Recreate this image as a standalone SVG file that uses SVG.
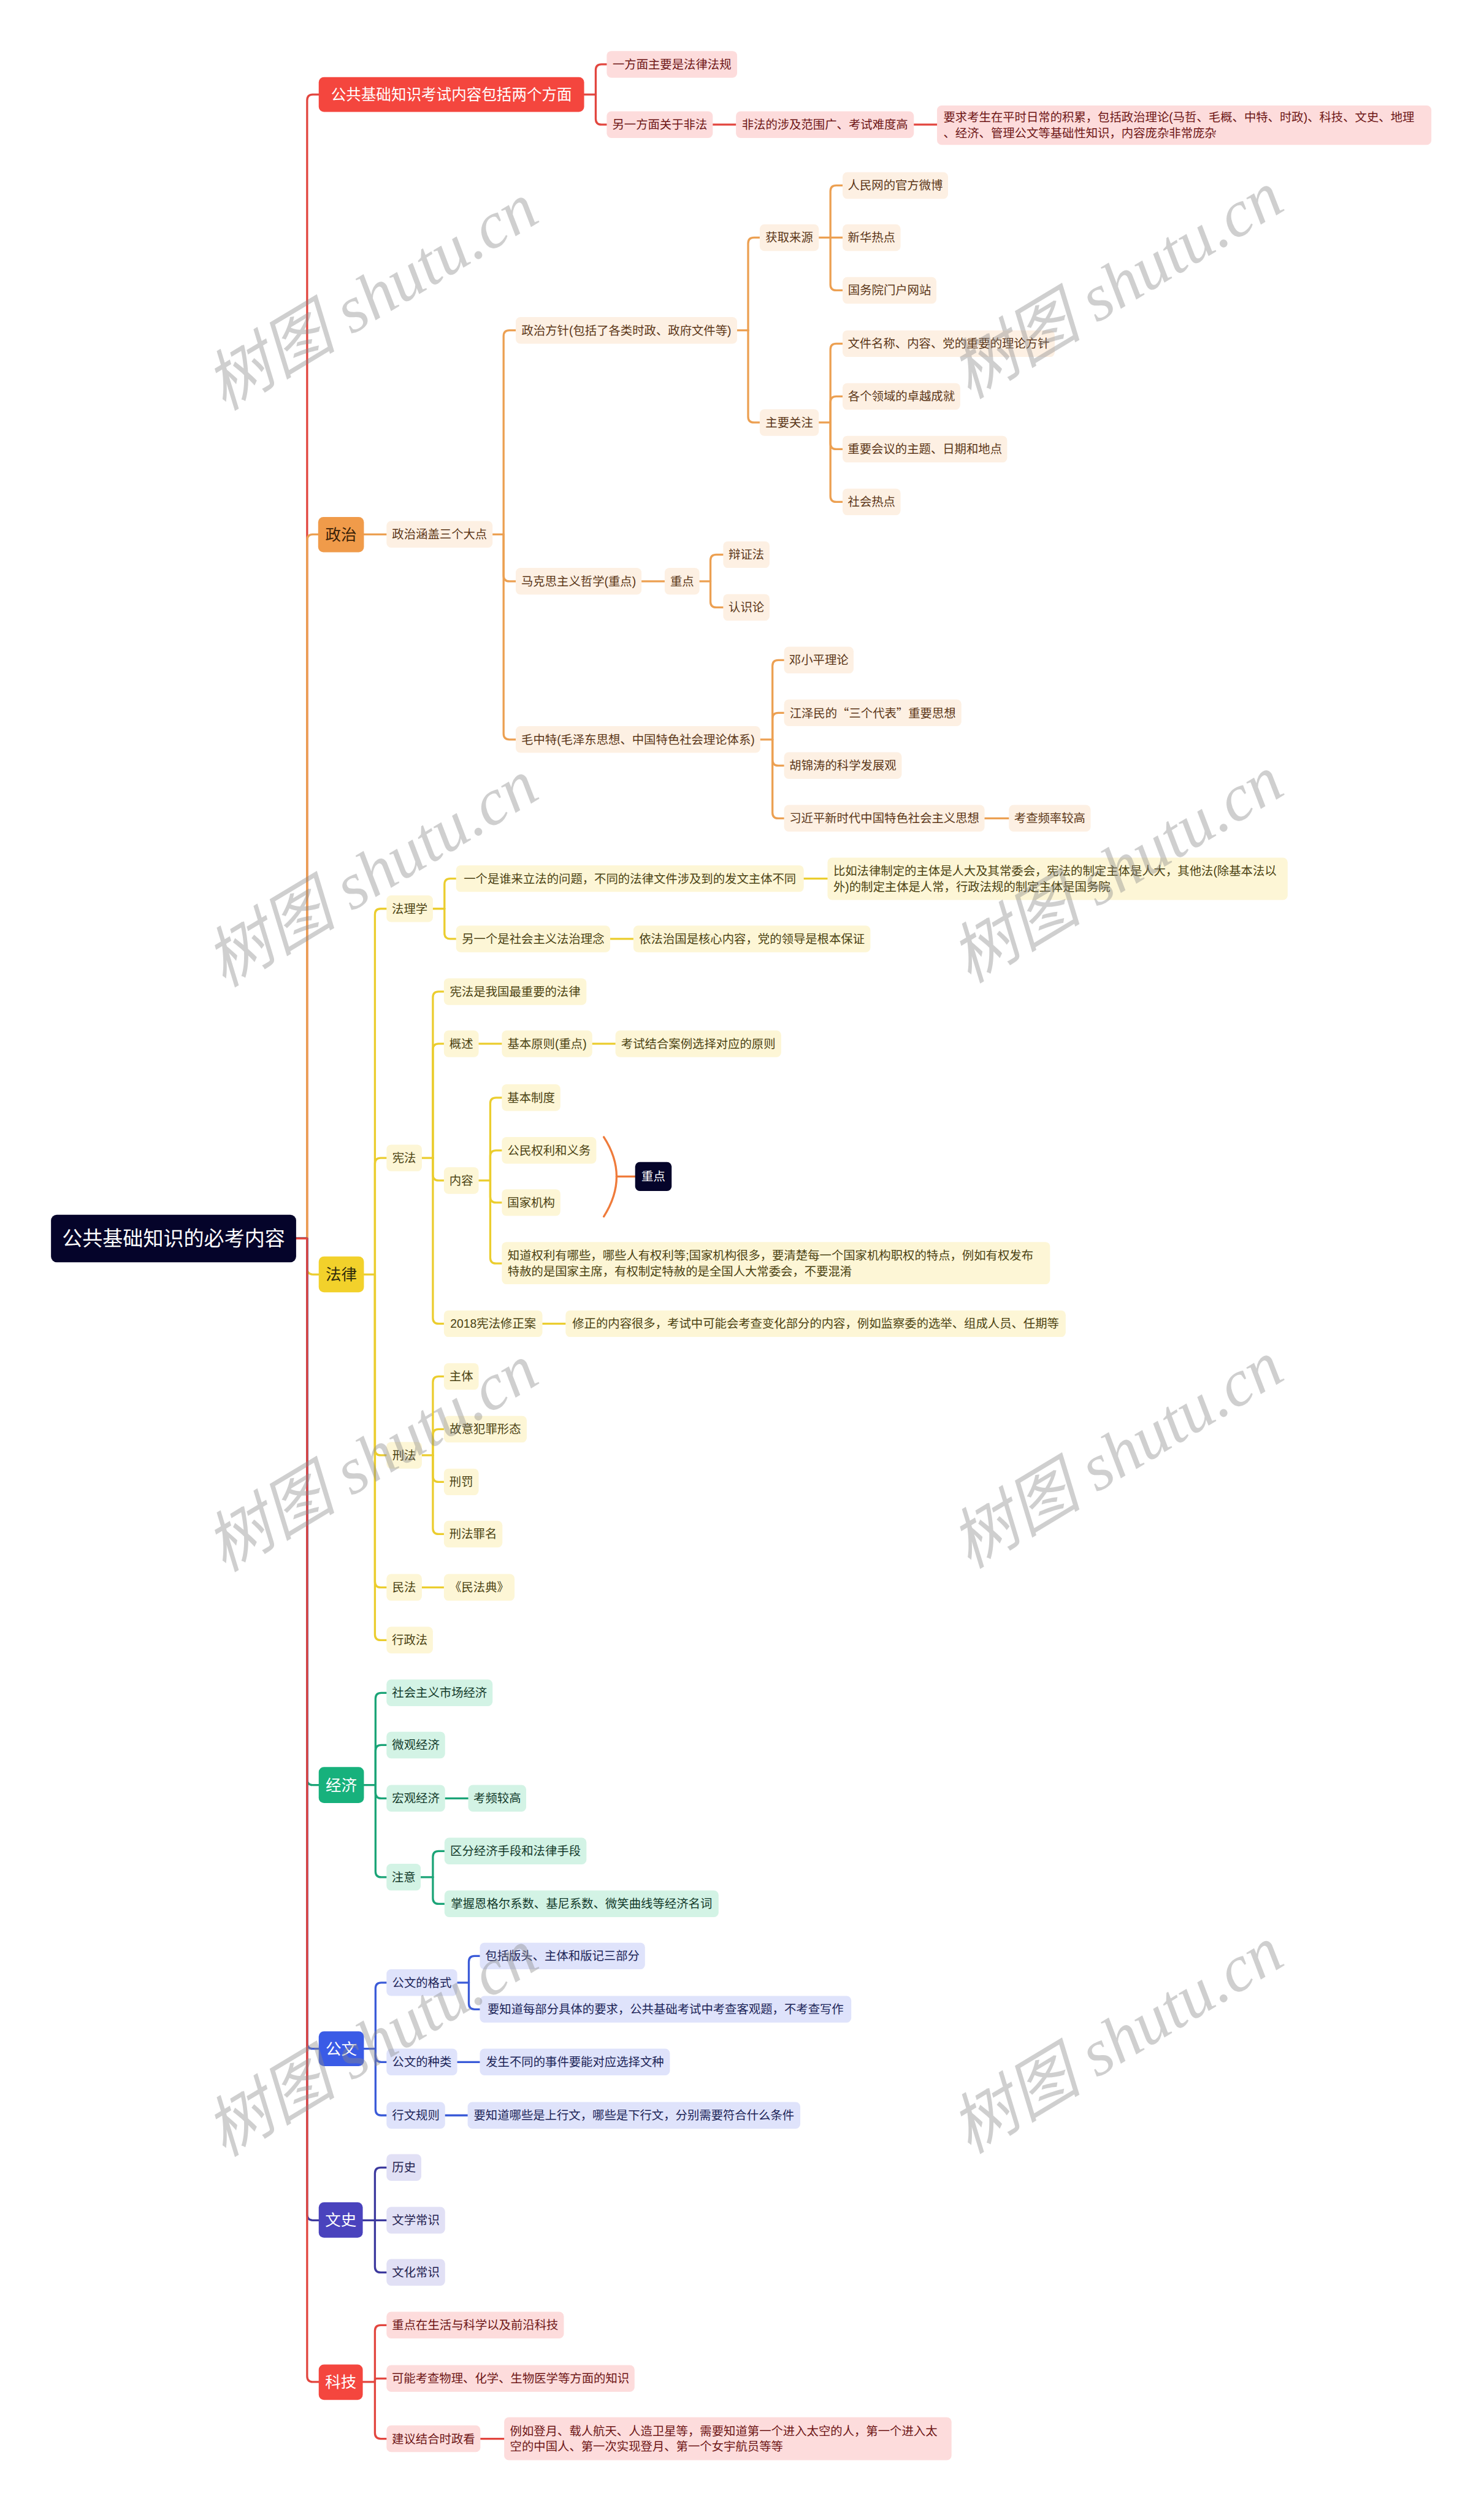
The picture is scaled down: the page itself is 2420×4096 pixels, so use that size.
<svg xmlns="http://www.w3.org/2000/svg" width="2420" height="4096" viewBox="0 0 2420 4096">
<style>
text{font-family:"Liberation Sans","Noto Sans CJK SC",sans-serif;font-size:20.5px;dominant-baseline:central;text-anchor:middle}
.lt text{text-anchor:start}
.pk rect{fill:#fddcdc}.pk text{fill:#6e1616}
.pe rect{fill:#fdf0e3}.pe text{fill:#5b3617}
.ye rect{fill:#fdf6d6}.ye text{fill:#4b4212}
.mi rect{fill:#d3f3e5}.mi text{fill:#12392a}
.bl rect{fill:#dfe3fb}.bl text{fill:#1b2357}
.la rect{fill:#e1e0f5}.la text{fill:#23214f}
.dk rect{fill:#05042a}.dk text{fill:#fff}
.br text{font-size:27px}
.c path{fill:none;stroke-width:3.5;stroke-linecap:round;stroke-linejoin:round}
.lr{stroke:#e2463f}.lo{stroke:#eca052}.ly{stroke:#ebcd2e}.lg{stroke:#1ba477}.lb{stroke:#3b5bd8}.li{stroke:#3d3a9e}.lbr{stroke:#ef7b3b}
.wm text{font-family:"Liberation Serif","Noto Sans CJK SC",serif;font-size:114px;font-style:italic;fill:#8a8a8a;opacity:0.4}
</style>
<g transform="scale(0.945)">
<g id="connectors" class="c">
<g class="lr"><path d="M511 2137H530V173Q530 163 540 163H550"/></g>
<g class="lo"><path d="M511 2137H530V932Q530 922 540 922H549"/></g>
<g class="ly"><path d="M511 2137H530V2189Q530 2199 540 2199H550"/></g>
<g class="lg"><path d="M511 2137H530V3070Q530 3080 540 3080H550"/></g>
<g class="lb"><path d="M511 2137H530V3525Q530 3535 540 3535H550"/></g>
<g class="li"><path d="M511 2137H530V3821Q530 3831 540 3831H550"/></g>
<g class="lr"><path d="M511 2137H530V4100Q530 4110 540 4110H550"/></g>
<g class="lr">
<path d="M1008 163H1028"/><path d="M1028 163V121Q1028 111 1038 111H1047"/><path d="M1028 163V205Q1028 215 1038 215H1047"/>
<path d="M1230 215H1270"/><path d="M1577 215H1617"/>
</g>
<g class="lo">
<path d="M628 922H667"/><path d="M850 922H869"/>
<path d="M869 922V580Q869 570 879 570H890"/><path d="M869 922V993Q869 1003 879 1003H890"/><path d="M869 922V1266Q869 1276 879 1276H890"/>
<path d="M1272 570H1291"/><path d="M1291 570V420Q1291 410 1301 410H1311"/><path d="M1291 570V719Q1291 729 1301 729H1311"/>
<path d="M1413 410H1454"/><path d="M1433 410V330Q1433 320 1443 320H1454"/><path d="M1433 410V491Q1433 501 1443 501H1454"/>
<path d="M1413 729H1433"/><path d="M1433 729V603Q1433 593 1443 593H1454"/><path d="M1433 729V694Q1433 684 1443 684H1454"/><path d="M1433 729V765Q1433 775 1443 775H1454"/><path d="M1433 729V856Q1433 866 1443 866H1454"/>
<path d="M1107 1003H1147"/><path d="M1207 1003H1226"/><path d="M1226 1003V967Q1226 957 1236 957H1248"/><path d="M1226 1003V1038Q1226 1048 1236 1048H1248"/>
<path d="M1312 1276H1333"/><path d="M1333 1276V1149Q1333 1139 1343 1139H1353"/><path d="M1333 1276V1240Q1333 1230 1343 1230H1353"/><path d="M1333 1276V1311Q1333 1321 1343 1321H1353"/><path d="M1333 1276V1402Q1333 1412 1343 1412H1353"/>
<path d="M1699 1412H1741"/>
</g>
<g class="ly">
<path d="M628 2199H647"/>
<path d="M647 2199V1578Q647 1568 657 1568H667"/><path d="M647 2199V2008Q647 1998 657 1998H667"/><path d="M647 2199V2501Q647 2511 657 2511H667"/><path d="M647 2199V2729Q647 2739 657 2739H667"/><path d="M647 2199V2820Q647 2830 657 2830H667"/>
<path d="M747 1568H767"/><path d="M767 1568V1526Q767 1516 777 1516H787"/><path d="M767 1568V1610Q767 1620 777 1620H787"/>
<path d="M1387 1516H1428"/><path d="M1053 1620H1093"/>
<path d="M728 1998H747"/><path d="M747 1998V1721Q747 1711 757 1711H766"/><path d="M747 1998V1811Q747 1801 757 1801H766"/><path d="M747 1998V2027Q747 2037 757 2037H766"/><path d="M747 1998V2274Q747 2284 757 2284H766"/>
<path d="M826 1801H866"/><path d="M1022 1801H1062"/>
<path d="M826 2037H846"/><path d="M846 2037V1904Q846 1894 856 1894H866"/><path d="M846 2037V1995Q846 1985 856 1985H866"/><path d="M846 2037V2065Q846 2075 856 2075H866"/><path d="M846 2037V2170Q846 2180 856 2180H866"/>
<path d="M936 2284H976"/>
<path d="M728 2511H747"/><path d="M747 2511V2385Q747 2375 757 2375H766"/><path d="M747 2511V2476Q747 2466 757 2466H766"/><path d="M747 2511V2547Q747 2557 757 2557H766"/><path d="M747 2511V2637Q747 2647 757 2647H766"/>
<path d="M728 2739H766"/>
</g>
<g class="lbr"><path d="M1042 1962Q1086 2030 1042 2099" stroke-width="3"/><path d="M1064 2030H1096" stroke-width="3"/></g>
<g class="lg">
<path d="M628 3080H648"/>
<path d="M648 3080V2931Q648 2921 658 2921H667"/><path d="M648 3080V3021Q648 3011 658 3011H667"/><path d="M648 3080V3093Q648 3103 658 3103H667"/><path d="M648 3080V3229Q648 3239 658 3239H667"/>
<path d="M768 3103H808"/>
<path d="M726 3239H747"/><path d="M747 3239V3204Q747 3194 757 3194H767"/><path d="M747 3239V3275Q747 3285 757 3285H767"/>
</g>
<g class="lb">
<path d="M628 3535H648"/>
<path d="M648 3535V3431Q648 3421 658 3421H667"/><path d="M648 3535V3548Q648 3558 658 3558H667"/><path d="M648 3535V3640Q648 3650 658 3650H667"/>
<path d="M789 3421H809"/><path d="M809 3421V3385Q809 3375 819 3375H828"/><path d="M809 3421V3457Q809 3467 819 3467H828"/>
<path d="M789 3558H828"/><path d="M768 3650H807"/>
</g>
<g class="li">
<path d="M626 3831H667"/><path d="M647 3831V3750Q647 3740 657 3740H667"/><path d="M647 3831V3911Q647 3921 657 3921H667"/>
</g>
<g class="lr">
<path d="M626 4110H647"/><path d="M647 4110V4022Q647 4012 657 4012H667"/><path d="M647 4110V4107Q647 4104 650 4104H667"/><path d="M647 4110V4198Q647 4208 657 4208H667"/>
<path d="M829 4208H870"/>
</g>
</g>

<g id="root" class="dk"><rect x="88" y="2096" width="423" height="82" rx="10"/><text x="299.5" y="2137" style="font-size:35px">公共基础知识的必考内容</text></g>

<g id="b0" class="br"><rect x="550" y="133" width="458" height="60" rx="9" fill="#f4463e"/><text x="779" y="163" fill="#fff" style="font-size:26px">公共基础知识考试内容包括两个方面</text></g>
<g id="b0-1" class="pk"><rect x="1047" y="88" width="225" height="46" rx="8"/><text x="1159.5" y="111">一方面主要是法律法规</text></g>
<g id="b0-2" class="pk"><rect x="1047" y="192" width="183" height="46" rx="8"/><text x="1138.5" y="215">另一方面关于非法</text></g>
<g id="b0-3" class="pk"><rect x="1270" y="192" width="307" height="46" rx="8"/><text x="1423.5" y="215">非法的涉及范围广、考试难度高</text></g>
<g id="b0-4" class="pk lt"><rect x="1617" y="182" width="853" height="68" rx="8"/><text x="1628" y="202.5">要求考生在平时日常的积累，包括政治理论(马哲、毛概、中特、时政)、科技、文史、地理</text><text x="1628" y="229.5">、经济、管理公文等基础性知识，内容庞杂非常庞杂</text></g>

<g id="zz" class="br"><rect x="549" y="892" width="79" height="61" rx="9" fill="#f09b4a"/><text x="588.5" y="922.5" fill="#3b2208">政治</text></g>
<g id="zz-1" class="pe"><rect x="667" y="899" width="183" height="46" rx="8"/><text x="758.5" y="922">政治涵盖三个大点</text></g>
<g id="zz-2" class="pe"><rect x="890" y="547" width="382" height="46" rx="8"/><text x="1081" y="570">政治方针(包括了各类时政、政府文件等)</text></g>
<g id="zz-3" class="pe"><rect x="1311" y="387" width="102" height="46" rx="8"/><text x="1362" y="410">获取来源</text></g>
<g id="zz-4" class="pe"><rect x="1454" y="297" width="182" height="46" rx="8"/><text x="1545" y="320">人民网的官方微博</text></g>
<g id="zz-5" class="pe"><rect x="1454" y="387" width="100" height="46" rx="8"/><text x="1504" y="410">新华热点</text></g>
<g id="zz-6" class="pe"><rect x="1454" y="478" width="162" height="46" rx="8"/><text x="1535" y="501">国务院门户网站</text></g>
<g id="zz-7" class="pe"><rect x="1311" y="706" width="102" height="46" rx="8"/><text x="1362" y="729">主要关注</text></g>
<g id="zz-8" class="pe"><rect x="1454" y="570" width="366" height="46" rx="8"/><text x="1637" y="593">文件名称、内容、党的重要的理论方针</text></g>
<g id="zz-9" class="pe"><rect x="1454" y="661" width="203" height="46" rx="8"/><text x="1555.5" y="684">各个领域的卓越成就</text></g>
<g id="zz-10" class="pe"><rect x="1454" y="752" width="284" height="46" rx="8"/><text x="1596" y="775">重要会议的主题、日期和地点</text></g>
<g id="zz-11" class="pe"><rect x="1454" y="843" width="100" height="46" rx="8"/><text x="1504" y="866">社会热点</text></g>
<g id="zz-12" class="pe"><rect x="890" y="980" width="217" height="46" rx="8"/><text x="998.5" y="1003">马克思主义哲学(重点)</text></g>
<g id="zz-13" class="pe"><rect x="1147" y="980" width="60" height="46" rx="8"/><text x="1177" y="1003">重点</text></g>
<g id="zz-14" class="pe"><rect x="1248" y="934" width="80" height="46" rx="8"/><text x="1288" y="957">辩证法</text></g>
<g id="zz-15" class="pe"><rect x="1248" y="1025" width="80" height="46" rx="8"/><text x="1288" y="1048">认识论</text></g>
<g id="zz-16" class="pe"><rect x="890" y="1253" width="422" height="46" rx="8"/><text x="1101" y="1276">毛中特(毛泽东思想、中国特色社会理论体系)</text></g>
<g id="zz-17" class="pe"><rect x="1353" y="1116" width="120" height="46" rx="8"/><text x="1413" y="1139">邓小平理论</text></g>
<g id="zz-18" class="pe"><rect x="1353" y="1207" width="306" height="46" rx="8"/><text x="1506" y="1230" style="font-family:'Noto Sans CJK SC',sans-serif">江泽民的“三个代表”重要思想</text></g>
<g id="zz-19" class="pe"><rect x="1353" y="1298" width="203" height="46" rx="8"/><text x="1454.5" y="1321">胡锦涛的科学发展观</text></g>
<g id="zz-20" class="pe"><rect x="1353" y="1389" width="346" height="46" rx="8"/><text x="1526" y="1412">习近平新时代中国特色社会主义思想</text></g>
<g id="zz-21" class="pe"><rect x="1741" y="1389" width="141" height="46" rx="8"/><text x="1811.5" y="1412">考查频率较高</text></g>

<g id="fl" class="br"><rect x="550" y="2168" width="78" height="62" rx="9" fill="#f2d12b"/><text x="589" y="2199" fill="#2e2a0c">法律</text></g>
<g id="fl-1" class="ye"><rect x="667" y="1545" width="80" height="46" rx="8"/><text x="707" y="1568">法理学</text></g>
<g id="fl-2" class="ye"><rect x="787" y="1493" width="600" height="46" rx="8"/><text x="1087" y="1516">一个是谁来立法的问题，不同的法律文件涉及到的发文主体不同</text></g>
<g id="fl-3" class="ye lt"><rect x="1428" y="1480" width="794" height="73" rx="8"/><text x="1438" y="1503">比如法律制定的主体是人大及其常委会，宪法的制定主体是人大，其他法(除基本法以</text><text x="1438" y="1530">外)的制定主体是人常，行政法规的制定主体是国务院</text></g>
<g id="fl-4" class="ye"><rect x="787" y="1597" width="266" height="46" rx="8"/><text x="920" y="1620">另一个是社会主义法治理念</text></g>
<g id="fl-5" class="ye"><rect x="1093" y="1597" width="409" height="46" rx="8"/><text x="1297.5" y="1620">依法治国是核心内容，党的领导是根本保证</text></g>
<g id="fl-6" class="ye"><rect x="667" y="1975" width="61" height="46" rx="8"/><text x="697.5" y="1998">宪法</text></g>
<g id="fl-7" class="ye"><rect x="766" y="1688" width="246" height="46" rx="8"/><text x="889" y="1711">宪法是我国最重要的法律</text></g>
<g id="fl-8" class="ye"><rect x="766" y="1778" width="60" height="46" rx="8"/><text x="796" y="1801">概述</text></g>
<g id="fl-9" class="ye"><rect x="866" y="1778" width="156" height="46" rx="8"/><text x="944" y="1801">基本原则(重点)</text></g>
<g id="fl-10" class="ye"><rect x="1062" y="1778" width="286" height="46" rx="8"/><text x="1205" y="1801">考试结合案例选择对应的原则</text></g>
<g id="fl-11" class="ye"><rect x="766" y="2014" width="60" height="46" rx="8"/><text x="796" y="2037">内容</text></g>
<g id="fl-12" class="ye"><rect x="866" y="1871" width="101" height="46" rx="8"/><text x="916.5" y="1894">基本制度</text></g>
<g id="fl-13" class="ye"><rect x="866" y="1962" width="163" height="46" rx="8"/><text x="947.5" y="1985">公民权利和义务</text></g>
<g id="fl-14" class="ye"><rect x="866" y="2052" width="101" height="46" rx="8"/><text x="916.5" y="2075">国家机构</text></g>
<g id="fl-15" class="dk"><rect x="1096" y="2005" width="63" height="50" rx="8"/><text x="1127.5" y="2030">重点</text></g>
<g id="fl-16" class="ye lt"><rect x="866" y="2143" width="946" height="73" rx="8"/><text x="876" y="2166.5">知道权利有哪些，哪些人有权利等;国家机构很多，要清楚每一个国家机构职权的特点，例如有权发布</text><text x="876" y="2193.5">特赦的是国家主席，有权制定特赦的是全国人大常委会，不要混淆</text></g>
<g id="fl-17" class="ye"><rect x="766" y="2261" width="170" height="46" rx="8"/><text x="851" y="2284">2018宪法修正案</text></g>
<g id="fl-18" class="ye"><rect x="976" y="2261" width="863" height="46" rx="8"/><text x="1407.5" y="2284">修正的内容很多，考试中可能会考查变化部分的内容，例如监察委的选举、组成人员、任期等</text></g>
<g id="fl-19" class="ye"><rect x="667" y="2488" width="61" height="46" rx="8"/><text x="697.5" y="2511">刑法</text></g>
<g id="fl-20" class="ye"><rect x="766" y="2352" width="60" height="46" rx="8"/><text x="796" y="2375">主体</text></g>
<g id="fl-21" class="ye"><rect x="766" y="2443" width="143" height="46" rx="8"/><text x="837.5" y="2466">故意犯罪形态</text></g>
<g id="fl-22" class="ye"><rect x="766" y="2534" width="60" height="46" rx="8"/><text x="796" y="2557">刑罚</text></g>
<g id="fl-23" class="ye"><rect x="766" y="2624" width="101" height="46" rx="8"/><text x="816.5" y="2647">刑法罪名</text></g>
<g id="fl-24" class="ye"><rect x="667" y="2716" width="61" height="46" rx="8"/><text x="697.5" y="2739">民法</text></g>
<g id="fl-25" class="ye"><rect x="766" y="2716" width="122" height="46" rx="8"/><text x="827" y="2739">《民法典》</text></g>
<g id="fl-26" class="ye"><rect x="667" y="2807" width="80" height="46" rx="8"/><text x="707" y="2830">行政法</text></g>

<g id="jj" class="br"><rect x="550" y="3049" width="78" height="62" rx="9" fill="#17b17c"/><text x="589" y="3080" fill="#fff">经济</text></g>
<g id="jj-1" class="mi"><rect x="667" y="2898" width="183" height="46" rx="8"/><text x="758.5" y="2921">社会主义市场经济</text></g>
<g id="jj-2" class="mi"><rect x="667" y="2988" width="101" height="46" rx="8"/><text x="717.5" y="3011">微观经济</text></g>
<g id="jj-3" class="mi"><rect x="667" y="3080" width="101" height="46" rx="8"/><text x="717.5" y="3103">宏观经济</text></g>
<g id="jj-4" class="mi"><rect x="808" y="3080" width="100" height="46" rx="8"/><text x="858" y="3103">考频较高</text></g>
<g id="jj-5" class="mi"><rect x="667" y="3216" width="59" height="46" rx="8"/><text x="696.5" y="3239">注意</text></g>
<g id="jj-6" class="mi"><rect x="767" y="3171" width="245" height="46" rx="8"/><text x="889.5" y="3194">区分经济手段和法律手段</text></g>
<g id="jj-7" class="mi"><rect x="767" y="3262" width="473" height="46" rx="8"/><text x="1003.5" y="3285">掌握恩格尔系数、基尼系数、微笑曲线等经济名词</text></g>

<g id="gw" class="br"><rect x="550" y="3505" width="78" height="60" rx="9" fill="#3a5be6"/><text x="589" y="3535" fill="#fff">公文</text></g>
<g id="gw-1" class="bl"><rect x="667" y="3398" width="122" height="46" rx="8"/><text x="728" y="3421">公文的格式</text></g>
<g id="gw-2" class="bl"><rect x="828" y="3352" width="285" height="46" rx="8"/><text x="970.5" y="3375">包括版头、主体和版记三部分</text></g>
<g id="gw-3" class="bl"><rect x="828" y="3444" width="641" height="46" rx="8"/><text x="1148.5" y="3467">要知道每部分具体的要求，公共基础考试中考查客观题，不考查写作</text></g>
<g id="gw-4" class="bl"><rect x="667" y="3535" width="122" height="46" rx="8"/><text x="728" y="3558">公文的种类</text></g>
<g id="gw-5" class="bl"><rect x="828" y="3535" width="328" height="46" rx="8"/><text x="992" y="3558">发生不同的事件要能对应选择文种</text></g>
<g id="gw-6" class="bl"><rect x="667" y="3627" width="101" height="46" rx="8"/><text x="717.5" y="3650">行文规则</text></g>
<g id="gw-7" class="bl"><rect x="807" y="3627" width="574" height="46" rx="8"/><text x="1094" y="3650">要知道哪些是上行文，哪些是下行文，分别需要符合什么条件</text></g>

<g id="ws" class="br"><rect x="550" y="3800" width="76" height="61" rx="9" fill="#4a43bd"/><text x="588" y="3831" fill="#fff">文史</text></g>
<g id="ws-1" class="la"><rect x="667" y="3717" width="60" height="46" rx="8"/><text x="697" y="3740">历史</text></g>
<g id="ws-2" class="la"><rect x="667" y="3808" width="101" height="46" rx="8"/><text x="717.5" y="3831">文学常识</text></g>
<g id="ws-3" class="la"><rect x="667" y="3898" width="101" height="46" rx="8"/><text x="717.5" y="3921">文化常识</text></g>

<g id="kj" class="br"><rect x="550" y="4080" width="76" height="61" rx="9" fill="#f4463e"/><text x="588" y="4110" fill="#fff">科技</text></g>
<g id="kj-1" class="pk"><rect x="667" y="3989" width="306" height="46" rx="8"/><text x="820" y="4012">重点在生活与科学以及前沿科技</text></g>
<g id="kj-2" class="pk"><rect x="667" y="4081" width="428" height="46" rx="8"/><text x="881" y="4104">可能考查物理、化学、生物医学等方面的知识</text></g>
<g id="kj-3" class="pk"><rect x="667" y="4185" width="162" height="46" rx="8"/><text x="748" y="4208">建议结合时政看</text></g>
<g id="kj-4" class="pk lt"><rect x="870" y="4171" width="772" height="74" rx="8"/><text x="880" y="4194.5">例如登月、载人航天、人造卫星等，需要知道第一个进入太空的人，第一个进入太</text><text x="880" y="4221.5">空的中国人、第一次实现登月、第一个女宇航员等等</text></g>

<g class="wm">
<text transform="translate(641 512) rotate(-31)">树图 shutu.cn</text>
<text transform="translate(1927 492) rotate(-31)">树图 shutu.cn</text>
<text transform="translate(641 1507) rotate(-31)">树图 shutu.cn</text>
<text transform="translate(1927 1500) rotate(-31)">树图 shutu.cn</text>
<text transform="translate(641 2516) rotate(-31)">树图 shutu.cn</text>
<text transform="translate(1927 2510) rotate(-31)">树图 shutu.cn</text>
<text transform="translate(641 3525) rotate(-31)">树图 shutu.cn</text>
<text transform="translate(1927 3520) rotate(-31)">树图 shutu.cn</text>
</g>
</g>
</svg>
